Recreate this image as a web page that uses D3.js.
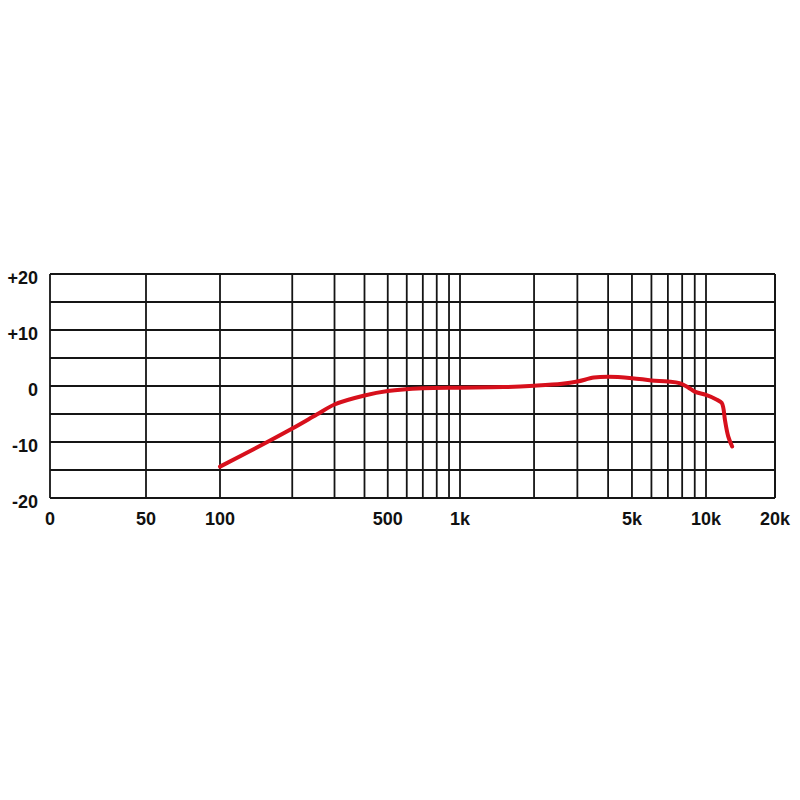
<!DOCTYPE html>
<html>
<head>
<meta charset="utf-8">
<script src="https://cdn.jsdelivr.net/npm/d3@7"></script>
<style>
    html, body { margin: 0; padding: 0; background: #fff; overflow: hidden; }
    svg { position: absolute; left: 0; top: 0; overflow: visible; }
</style>
</head>
<body>
<svg id="my-svg"></svg>
<script>
// frequency ticks ("0" sits at the left edge of the chart)
const tickFreqs = [25, 50, 100, 500, 1000, 5000, 10000, 20000];
const tickLabels = ["0", "50", "100", "500", "1k", "5k", "10k", "20k"];
const gridFreqs = [25, 50, 100, 200, 300, 400, 500, 600, 700, 800, 900,
    1000, 2000, 3000, 4000, 5000, 6000, 7000, 8000, 9000, 10000, 20000];
const dbTicks = [20, 10, 0, -10, -20];
const dbLabels = ["+20", "+10", "0", "-10", "-20"];
const dbGrid = [20, 15, 10, 5, 0, -5, -10, -15, -20];

// response curve
const freq = [100, 156, 200, 253, 300, 400, 500, 700, 1000, 1500, 2000, 2600, 3000,
    3500, 4000, 5000, 6000, 7000, 7800, 8500, 9000, 10000, 11100, 11700, 11900, 12100, 12500, 13000];
const level = [-14.4, -10.1, -7.6, -5.1, -3.3, -1.7, -0.9, -0.4, -0.3, -0.2, 0.05, 0.4, 0.8,
    1.5, 1.65, 1.4, 1.0, 0.8, 0.5, -0.3, -1.0, -1.6, -2.4, -3.0, -3.9, -6.1, -9.0, -10.8];

const width = 800;
const height = 800;
const margin = { top: 274, right: 25, bottom: 302, left: 50 };
const innerWidth = width - margin.left - margin.right;
const innerHeight = height - margin.top - margin.bottom;

const svg = d3.select("#my-svg")
    .attr("width", width)
    .attr("height", height)
    .attr("viewBox", `0 0 ${width} ${height}`);

const g = svg.append("g")
    .attr("transform", `translate(${margin.left},${margin.top})`);

const x = d3.scaleLog()
    .domain([25, 50, 100, 1000, 10000, 20000])
    .range([0, 96, 170, 410, 656, innerWidth]);

const y = d3.scaleLinear()
    .domain([-20, 20])
    .range([innerHeight, 0]);

// grid
g.append("g")
    .attr("class", "gridlines-x")
    .selectAll("line")
    .data(gridFreqs)
    .enter().append("line")
    .attr("x1", d => x(d))
    .attr("x2", d => x(d))
    .attr("y1", 0)
    .attr("y2", innerHeight)
    .style("stroke", "#151515")
    .style("stroke-width", 1.8);

g.append("g")
    .attr("class", "gridlines-y")
    .selectAll("line")
    .data(dbGrid)
    .enter().append("line")
    .attr("x1", 0)
    .attr("x2", innerWidth)
    .attr("y1", d => y(d))
    .attr("y2", d => y(d))
    .style("stroke", "#151515")
    .style("stroke-width", 1.8);

g.append("line")
    .attr("x1", innerWidth)
    .attr("x2", innerWidth)
    .attr("y1", 0)
    .attr("y2", innerHeight)
    .style("stroke", "#151515")
    .style("stroke-width", 1.8);

// axis labels
g.append("g")
    .attr("class", "x-labels")
    .selectAll("text")
    .data(tickFreqs)
    .enter().append("text")
    .attr("x", d => x(d))
    .attr("y", innerHeight + 27)
    .attr("text-anchor", "middle")
    .style("font-family", "'Liberation Sans', Arial, sans-serif")
    .style("font-weight", "bold")
    .style("font-size", "18px")
    .style("fill", "#111")
    .text((d, i) => tickLabels[i]);

g.append("g")
    .attr("class", "y-labels")
    .selectAll("text")
    .data(dbTicks)
    .enter().append("text")
    .attr("x", -12)
    .attr("y", d => y(d) + 10)
    .attr("text-anchor", "end")
    .style("font-family", "'Liberation Sans', Arial, sans-serif")
    .style("font-weight", "bold")
    .style("font-size", "18px")
    .style("fill", "#111")
    .text((d, i) => dbLabels[i]);

// response curve
const line = d3.line()
    .x((d, i) => x(freq[i]))
    .y(d => y(d))
    .curve(d3.curveCatmullRom);

g.append("path")
    .datum(level)
    .attr("d", line)
    .attr("fill", "none")
    .style("stroke", "#d7101c")
    .style("stroke-width", 4)
    .style("stroke-linecap", "round")
    .style("stroke-linejoin", "round");
</script>
</body>
</html>
